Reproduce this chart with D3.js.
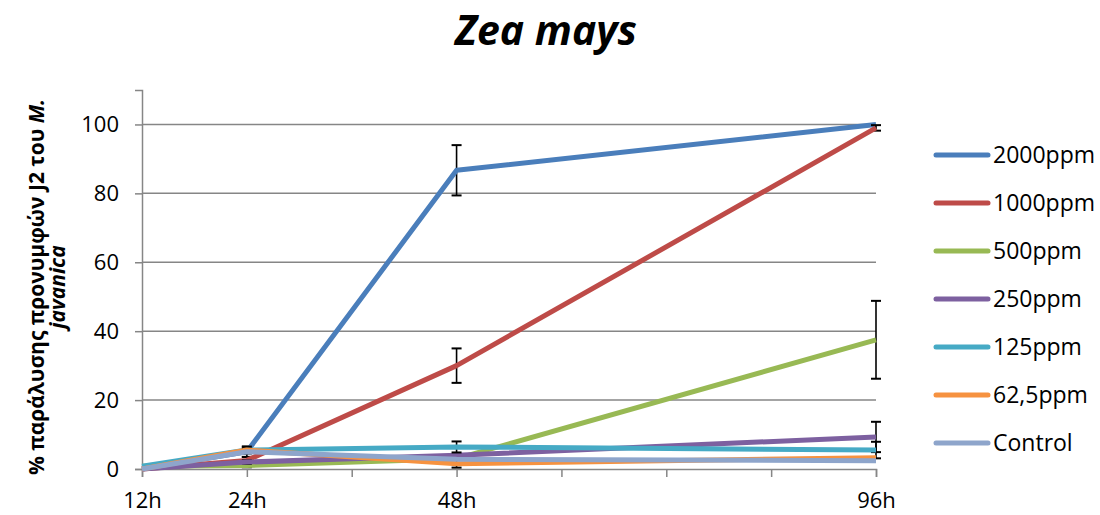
<!DOCTYPE html>
<html>
<head>
<meta charset="utf-8">
<script src="https://cdn.jsdelivr.net/npm/d3@7"></script>
<style>
  html, body { margin: 0; padding: 0; background: #fff; }
  svg { display: block; font-family: "Open Sans", "Noto Sans", sans-serif; }
</style>
</head>
<body>
<svg id="chart" width="1100" height="515"></svg>
<script>
// Observation times (hours) and the labelled ones
const hours = [12, 24, 48, 96];
const tickLabels = ["12h", "24h", "48h", "96h"];

// Series names and colours
const seriesNames = ["2000ppm", "1000ppm", "500ppm", "250ppm", "125ppm", "62,5ppm", "Control"];
const seriesColors = ["#4A7EBB", "#BE4B48", "#98B954", "#7D60A0", "#46AAC5", "#F69240", "#8EA5CB"];

// % paralysis per series at each time
const v2000 = [0, 5, 86.7, 100];
const v1000 = [0, 2.5, 30, 99];
const v500 = [0.8, 1, 3, 37.5];
const v250 = [0, 2, 4, 9.3];
const v125 = [0.8, 5.5, 6.4, 5.5];
const v62 = [0, 5.5, 1.5, 3.3];
const vControl = [0, 5, 2.8, 2.4];

// Standard error per series at each time
const e2000 = [0, 1.5, 7.3, 0];
const e1000 = [0, 1, 5, 0.8];
const e500 = [0, 0.5, 0, 11.3];
const e250 = [0, 0.5, 0, 4.4];
const e125 = [0, 1, 1.6, 2.4];
const e62 = [0, 0.5, 1.1, 0];
const eControl = [0, 0, 0, 0];

const values = [v2000, v1000, v500, v250, v125, v62, vControl];
const errors = [e2000, e1000, e500, e250, e125, e62, eControl];

const yTicks = [0, 20, 40, 60, 80, 100];
const xTicks = [12, 24, 36, 48, 60, 72, 84, 96];

const svg = d3.select("#chart");
const margin = { left: 142, right: 224, top: 90, bottom: 46 };
const W = 1100, H = 515;

const x = d3.scaleLinear().domain([12, 96]).range([margin.left, W - margin.right]);
const y = d3.scaleLinear().domain([0, 110]).range([H - margin.bottom, margin.top]);

const axisColor = "#868686";
const fontStack = "Open Sans, Noto Sans, sans-serif";

// Title
svg.append("text")
  .attr("x", 546).attr("y", 45)
  .attr("text-anchor", "middle")
  .attr("font-size", 41).attr("font-weight", "bold").attr("font-style", "italic")
  .text("Zea mays");

// Horizontal gridlines
svg.append("g")
  .selectAll("line")
  .data(yTicks.filter(d => d > 0))
  .join("line")
  .attr("x1", x(12)).attr("x2", x(96))
  .attr("y1", d => y(d)).attr("y2", d => y(d))
  .attr("stroke", axisColor).attr("stroke-width", 1.5);

// Y axis
const yAxis = d3.axisLeft(y).tickValues(yTicks).tickSize(7).tickPadding(16).tickFormat(d3.format("d"));
const gy = svg.append("g").attr("transform", `translate(${margin.left},0)`).call(yAxis);
gy.select(".domain").attr("stroke", axisColor).attr("stroke-width", 1.5);
gy.selectAll(".tick line").attr("stroke", axisColor).attr("stroke-width", 1.5);
gy.selectAll(".tick text").attr("font-size", 22).attr("fill", "#000")
  .attr("font-family", fontStack);

// X axis
const labelMap = new Map(hours.map((h, i) => [h, tickLabels[i]]));
const xAxis = d3.axisBottom(x).tickValues(xTicks).tickSize(8).tickPadding(15)
  .tickFormat(d => labelMap.get(d) || "");
const gx = svg.append("g").attr("transform", `translate(0,${y(0)})`).call(xAxis);
gx.select(".domain").attr("stroke", axisColor).attr("stroke-width", 1.5);
gx.selectAll(".tick line").attr("stroke", axisColor).attr("stroke-width", 1.5);
gx.selectAll(".tick text").attr("font-size", 22).attr("fill", "#000")
  .attr("font-family", fontStack);

// Y axis title (two lines, rotated)
const yTitle = svg.append("text")
  .attr("transform", "translate(44,287) rotate(-90)")
  .attr("text-anchor", "middle")
  .attr("font-size", 21).attr("font-weight", "bold");
yTitle.append("tspan").attr("x", 0).attr("dy", 0).text("% παράλυσης προνυμφών J2 του ");
yTitle.append("tspan").attr("font-style", "italic").text("M.");
yTitle.append("tspan").attr("x", 0).attr("dy", 21).attr("font-style", "italic").text("javanica");

// Series lines with error bars
const line = d3.line().x((d, i) => x(hours[i])).y(d => y(d));
const plot = svg.append("g");
values.forEach((vals, s) => {
  const g = plot.append("g");
  const errs = errors[s];
  hours.forEach((h, i) => {
    if (errs[i] <= 0) return;
    const cx = x(h), top = y(vals[i] + errs[i]), bot = y(Math.max(0, vals[i] - errs[i]));
    g.append("line").attr("x1", cx).attr("x2", cx).attr("y1", top).attr("y2", bot)
      .attr("stroke", "#000").attr("stroke-width", 1.6);
    [top, bot].forEach(yy => g.append("line")
      .attr("x1", cx - 5).attr("x2", cx + 5).attr("y1", yy).attr("y2", yy)
      .attr("stroke", "#000").attr("stroke-width", 2));
  });
  g.append("path").datum(vals).attr("d", line)
    .attr("fill", "none").attr("stroke", seriesColors[s])
    .attr("stroke-width", 5).attr("stroke-linejoin", "round");
});

// Legend
const legend = svg.append("g");
seriesNames.forEach((name, i) => {
  const ly = 155 + i * 48;
  legend.append("line").attr("x1", 936).attr("x2", 988).attr("y1", ly).attr("y2", ly)
    .attr("stroke", seriesColors[i]).attr("stroke-width", 5).attr("stroke-linecap", "round");
  legend.append("text").attr("x", 993).attr("y", ly + 8)
    .attr("font-size", 23).text(name);
});
</script>
</body>
</html>
